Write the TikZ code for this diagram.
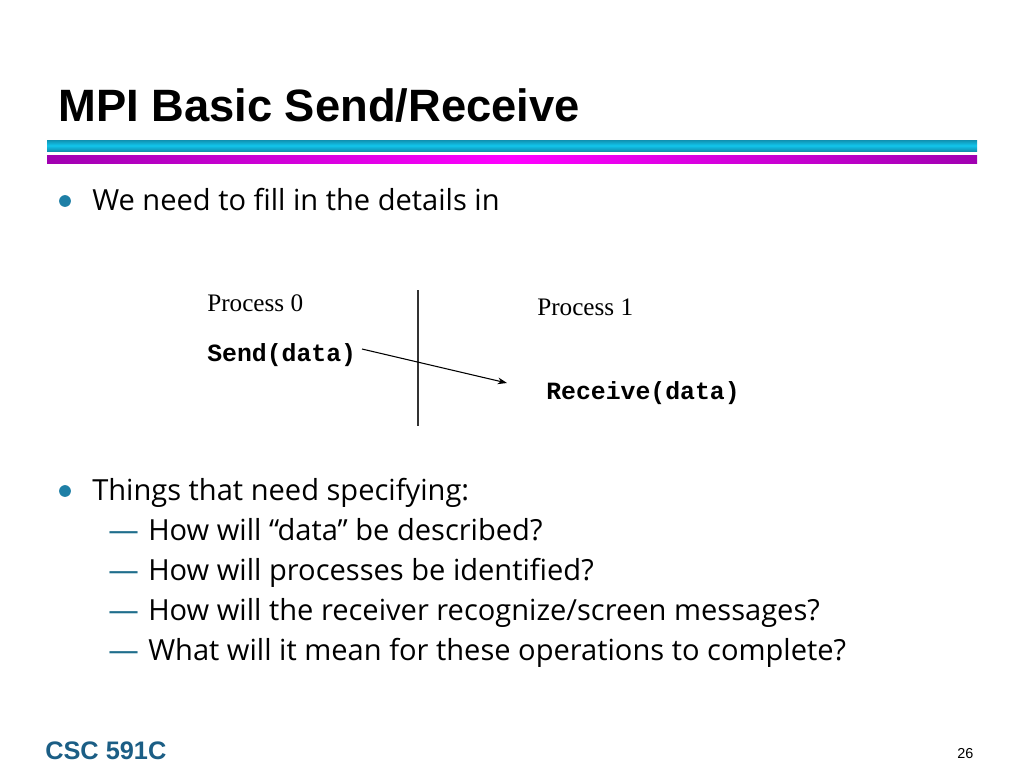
\documentclass[tikz,border=0pt]{standalone}
\usepackage{fontspec}
\setmainfont{Liberation Serif}
\newfontfamily\arialf{Liberation Sans}
\newfontfamily\monof{Liberation Mono}
\newfontfamily\bodyf{Open Sans}
\usetikzlibrary{arrows.meta}
\definecolor{bulletc}{HTML}{1E7FA6}
\definecolor{dashc}{HTML}{1F6E8C}
\definecolor{footc}{HTML}{1B5E85}
\definecolor{cyanedge}{HTML}{1090B0}
\definecolor{cyanmid}{HTML}{12C6EC}
\definecolor{magedge}{HTML}{A000B0}
\definecolor{magmid}{HTML}{FF00FF}
\tikzset{
  title/.style={anchor=base west,inner sep=0pt,font=\arialf\bfseries\fontsize{34}{40}\selectfont},
  body/.style={anchor=base west,inner sep=0pt,font=\bodyf\fontsize{21.8}{26}\selectfont},
  subdash/.style={anchor=base west,inner sep=0pt,text=dashc,font=\bodyf\fontsize{21.8}{26}\selectfont},
  proc/.style={anchor=base west,inner sep=0pt,font=\rmfamily\fontsize{18.9}{22}\selectfont},
  code/.style={anchor=base west,inner sep=0pt,font=\monof\bfseries\fontsize{18.6}{22}\selectfont},
  bulletdot/.style={circle,fill=bulletc,inner sep=0pt,minimum size=8.8pt},
  footer/.style={anchor=base west,inner sep=0pt,text=footc,font=\arialf\bfseries\fontsize{19}{22}\selectfont},
  pagenum/.style={anchor=base west,inner sep=0pt,font=\arialf\fontsize{10.8}{12}\selectfont},
  divider/.style={line width=1.1pt,draw=black!80},
  msg/.style={line width=0.8pt,-{Stealth[length=7pt,width=5pt]}}
}
\newcommand{\longdash}{\scalebox{1.05}[1]{—}}
\begin{document}
\begin{tikzpicture}[x=0.75pt,y=-0.75pt]
\useasboundingbox (0,0) rectangle (1024,768);
\fill[white] (0,0) rectangle (1024,768);
% title
\node[title] (ttl) at (58,121) {MPI Basic Send/Receive};
% bars
\shade[top color=cyanedge,bottom color=cyanedge,middle color=cyanmid] (47,140) rectangle (977,151);
\shade[left color=magedge,right color=magedge,middle color=magmid] (47,155.5) rectangle (977,163);
% bullet 1
\node[bulletdot] (b1) at (65,201) {};
\node[body] (t1) at (92,210) {We need to fill in the details in};
% diagram
\node[proc] (p0) at (207,311) {Process 0};
\node[proc] (p1) at (537,315) {Process 1};
\coordinate (vtop) at (418,290);
\coordinate (vbot) at (418,426);
\draw[divider] (vtop) -- (vbot);
\node[code] (send) at (207,361) {Send(data)};
\node[code] (recv) at (546,399) {Receive(data)};
\coordinate (mstart) at (362,349);
\coordinate (mend) at (507,383);
\draw[msg] (mstart) -- (mend);
% bullet 2
\node[bulletdot] (b2) at (65,491) {};
\node[body] (t2) at (92,500) {Things that need specifying:};
\node[subdash] (d1) at (108,540) {\longdash};
\node[body] (s1) at (148,540) {How will “data” be described?};
\node[subdash] (d2) at (108,580) {\longdash};
\node[body] (s2) at (148,580) {How will processes be identified?};
\node[subdash] (d3) at (108,620) {\longdash};
\node[body] (s3) at (148,620) {How will the receiver recognize/screen messages?};
\node[subdash] (d4) at (108,660) {\longdash};
\node[body] (s4) at (148,660) {What will it mean for these operations to complete?};
% footer
\node[footer] (foot) at (45,759) {CSC 591C};
\node[pagenum] (pg) at (957,758) {26};
\end{tikzpicture}
\end{document}
